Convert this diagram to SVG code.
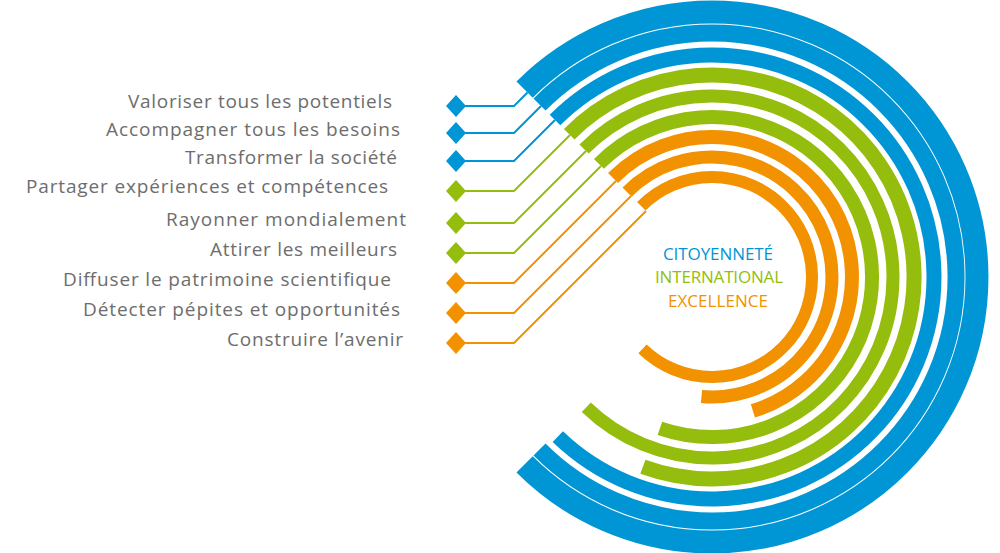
<svg xmlns="http://www.w3.org/2000/svg" width="1000" height="553" viewBox="0 0 1000 553">
<style>
.lbl{font-family:"Open Sans","Liberation Sans",sans-serif;font-size:19px;fill:#6d6d6d}
.ctr{font-family:"Open Sans","Liberation Sans",sans-serif;font-size:17px;text-anchor:middle}
.arc{fill:none;stroke-linecap:butt}
.ln{fill:none;stroke-width:2}
.b{stroke:#0096d6}.g{stroke:#95bd0e}.o{stroke:#f39200}
.fb{fill:#0096d6}.fg{fill:#95bd0e}.fo{fill:#f39200}
</style>
<rect width="1000" height="553" fill="#fff"/>
<g id="connectors">
<polyline class="ln b" points="456,106 514,106 527.5,92.5"/>
<polyline class="ln b" points="456,133 514,133 541,106"/>
<polyline class="ln b" points="456,161 514,161 555,120"/>
<polyline class="ln g" points="456,191 514,191 570,135"/>
<polyline class="ln g" points="456,223 514,223 586,151"/>
<polyline class="ln g" points="456,253 514,253 601,166"/>
<polyline class="ln o" points="456,283 514,283 616,181"/>
<polyline class="ln o" points="456,313 514,313 631,196"/>
<polyline class="ln o" points="456,343 514,343 646,211"/>
</g>
<g id="rings">
<path class="arc b" stroke-width="23" d="M524.6,89.6 A265,265 0 1 1 524.6,464.4"/>
<path class="arc b" stroke-width="17" d="M539.5,104.5 A244,244 0 1 1 539.5,449.5"/>
<path class="arc b" stroke-width="15" d="M555,120 A222,222 0 1 1 557.8,436.7"/>
<path class="arc g" stroke-width="15" d="M569.2,134.2 A202,202 0 1 1 642.9,466.8"/>
<path class="arc g" stroke-width="13" d="M584,149 A181,181 0 1 1 586.3,407.2"/>
<path class="arc g" stroke-width="14" d="M598.9,163.9 A160,160 0 1 1 659.9,428.3"/>
<path class="arc o" stroke-width="14" d="M613,178 A140,140 0 1 1 752.9,410.9"/>
<path class="arc o" stroke-width="13" d="M627.1,192.1 A120,120 0 1 1 701.5,396.5"/>
<path class="arc o" stroke-width="12" d="M641.3,206.3 A100,100 0 1 1 642.5,348.9"/>
</g>
<g id="center">
<text class="ctr fb" x="718" y="260" textLength="110">CITOYENNETÉ</text>
<text class="ctr fg" x="719" y="283" textLength="128">INTERNATIONAL</text>
<text class="ctr fo" x="718" y="307" textLength="100">EXCELLENCE</text>
</g>
<g id="n1"><polygon class="fb" points="446,106 456,95 466,106 456,117"/><text class="lbl" x="128" y="108" textLength="264">Valoriser tous les potentiels</text></g>
<g id="n2"><polygon class="fb" points="446,133 456,122 466,133 456,144"/><text class="lbl" x="106" y="136" textLength="294">Accompagner tous les besoins</text></g>
<g id="n3"><polygon class="fb" points="446,161 456,150 466,161 456,172"/><text class="lbl" x="185" y="164" textLength="212">Transformer la société</text></g>
<g id="n4"><polygon class="fg" points="446,191 456,180 466,191 456,202"/><text class="lbl" x="26" y="193" textLength="362">Partager expériences et compétences</text></g>
<g id="n5"><polygon class="fg" points="446,223 456,212 466,223 456,234"/><text class="lbl" x="166" y="226" textLength="240">Rayonner mondialement</text></g>
<g id="n6"><polygon class="fg" points="446,253 456,242 466,253 456,264"/><text class="lbl" x="210" y="256" textLength="187">Attirer les meilleurs</text></g>
<g id="n7"><polygon class="fo" points="446,283 456,272 466,283 456,294"/><text class="lbl" x="63" y="286" textLength="328">Diffuser le patrimoine scientifique</text></g>
<g id="n8"><polygon class="fo" points="446,313 456,302 466,313 456,324"/><text class="lbl" x="83" y="316" textLength="317">Détecter pépites et opportunités</text></g>
<g id="n9"><polygon class="fo" points="446,343 456,332 466,343 456,354"/><text class="lbl" x="227" y="346" textLength="176">Construire l’avenir</text></g>
</svg>
